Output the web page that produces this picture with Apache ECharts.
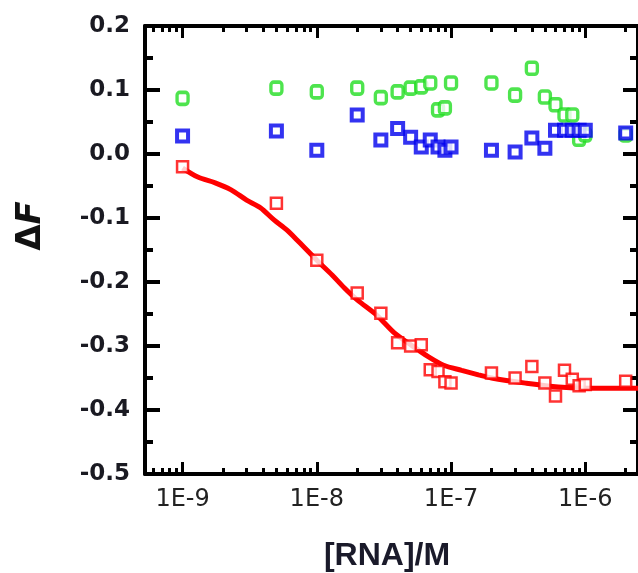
<!DOCTYPE html>
<html>
<head>
<meta charset="utf-8">
<script src="https://cdn.jsdelivr.net/npm/echarts@6/dist/echarts.min.js"></script>
<style>html,body{margin:0;padding:0;background:#fff;}#c{width:638px;height:573px;}</style>
</head>
<body>
<div id="c"></div>
<script>
// concentrations [RNA] (M), shared by all three series
var conc = [1e-9, 5e-9, 1e-8, 2e-8, 3e-8, 4e-8, 5e-8, 6e-8, 7e-8, 8e-8, 9e-8, 1e-7,
            2e-7, 3e-7, 4e-7, 5e-7, 6e-7, 7e-7, 8e-7, 9e-7, 1e-6, 2e-6];
var greenDF = [0.087, 0.103, 0.097, 0.103, 0.088, 0.097, 0.103, 0.105, 0.111, 0.069, 0.072, 0.111,
               0.111, 0.092, 0.134, 0.089, 0.077, 0.061, 0.061, 0.023, 0.030, 0.030];
var blueDF = [0.028, 0.036, 0.006, 0.061, 0.022, 0.040, 0.026, 0.011, 0.022, 0.011, 0.006, 0.011,
              0.006, 0.003, 0.025, 0.009, 0.037, 0.037, 0.037, 0.037, 0.037, 0.033];
var redDF = [-0.020, -0.077, -0.166, -0.217, -0.249, -0.295, -0.300, -0.298, -0.337, -0.340, -0.356, -0.358,
             -0.342, -0.350, -0.332, -0.358, -0.378, -0.338, -0.352, -0.362, -0.360, -0.355];
// fitted curve
var fitX = [1e-9, 1.3e-9, 1.75e-9, 2.3e-9, 3e-9, 3.8e-9, 4.8e-9, 6e-9, 7.4e-9, 1e-8, 1.3e-8, 1.6e-8,
            2e-8, 2.8e-8, 3.8e-8, 5e-8, 6.8e-8, 8.8e-8, 1.2e-7, 1.6e-7, 2e-7, 3.6e-7, 6.3e-7, 1.1e-6, 1.9e-6, 2.5e-6];
var fitY = [-0.022, -0.036, -0.045, -0.056, -0.072, -0.084, -0.103, -0.119, -0.138, -0.166, -0.189, -0.209,
            -0.228, -0.252, -0.280, -0.298, -0.317, -0.330, -0.338, -0.345, -0.350, -0.358, -0.364, -0.366, -0.366, -0.366];
// axis ranges and tick labels
var xMin = 5.25e-10, xMax = 2.47e-6;
var xMajorExp = [-9, -8, -7, -6];
var xTickLabels = ['1E-9', '1E-8', '1E-7', '1E-6'];
var yMin = -0.5, yMax = 0.2, yStep = 0.1;

var lo = Math.log10(xMin), hi = Math.log10(xMax);
var minorExp = [];
for (var e = -10; e <= -6; e++) {
  for (var k = 2; k <= 9; k++) {
    var v = e + Math.log10(k);
    if (v > lo && v < hi) minorExp.push(v);
  }
}
var majorIn = xMajorExp.filter(function (v) { return v > lo && v < hi; });

function pair(xs, ys) { return xs.map(function (x, i) { return [x, ys[i]]; }); }

var tickAxis = function (pos, values, len, labels) {
  return {
    type: 'value', position: pos, min: lo, max: hi,
    axisLine: { show: false, onZero: false },
    splitLine: { show: false },
    axisTick: { show: true, inside: true, length: len, customValues: values,
                lineStyle: { color: '#000', width: 3 } },
    axisLabel: labels ? {
      show: true, customValues: values, margin: 14,
      fontFamily: 'DejaVu Sans', fontSize: 24, color: '#222',
      formatter: function (v) { return xTickLabels[xMajorExp.indexOf(Math.round(v))]; }
    } : { show: false }
  };
};

var chart = echarts.init(document.getElementById('c'), null, { renderer: 'canvas' });
var yAxisBase = function (pos, labels) {
  return {
    type: 'value', position: pos, min: yMin, max: yMax, interval: yStep,
    axisLine: { show: true, onZero: false, lineStyle: { color: '#000', width: 4 } },
    splitLine: { show: false },
    axisTick: { show: true, inside: true, length: 15, lineStyle: { color: '#000', width: 4 } },
    minorTick: { show: true, splitNumber: 2, length: 8, lineStyle: { color: '#000', width: 4 } },
    axisLabel: labels ? {
      show: true, margin: 15, fontFamily: 'DejaVu Sans', fontWeight: 'bold', fontSize: 23, color: '#1a1a22',
      formatter: function (v) { return v.toFixed(1); }
    } : { show: false }
  };
};

chart.setOption({
  animation: false,
  backgroundColor: '#fff',
  grid: { left: 145, top: 26, width: 505, height: 448, containLabel: false },
  xAxis: [
    { type: 'log', position: 'bottom', min: xMin, max: xMax,
      axisLine: { show: true, onZero: false, lineStyle: { color: '#000', width: 4 } },
      axisTick: { show: false }, axisLabel: { show: false }, splitLine: { show: false } },
    { type: 'log', position: 'top', min: xMin, max: xMax,
      axisLine: { show: true, onZero: false, lineStyle: { color: '#000', width: 4 } },
      axisTick: { show: false }, axisLabel: { show: false }, splitLine: { show: false } },
    tickAxis('bottom', majorIn, 12, true),
    tickAxis('bottom', minorExp, 6, false),
    tickAxis('top', majorIn, 12, false),
    tickAxis('top', minorExp, 6, false)
  ],
  yAxis: [yAxisBase('left', true), yAxisBase('right', false)],
  graphic: [
    { type: 'text', x: 31, y: 226, rotation: Math.PI / 2,
      style: { text: '{a|Δ}{b|F}', align: 'center', verticalAlign: 'middle',
        rich: { a: { fontFamily: 'DejaVu Sans', fontWeight: 'bold', fontSize: 34, fill: '#111' },
                b: { fontFamily: 'DejaVu Sans', fontWeight: 'bold', fontStyle: 'italic', fontSize: 34, fill: '#111' } } } },
    { type: 'text', x: 387, y: 556,
      style: { text: '[RNA]/M', align: 'center', verticalAlign: 'middle',
        fontFamily: 'Liberation Sans', fontWeight: 'bold', fontSize: 32, fill: '#1a1a2a' } }
  ],
  series: [
    { type: 'line', xAxisIndex: 0, yAxisIndex: 0, data: pair(fitX, fitY), smooth: 0.3,
      showSymbol: false, lineStyle: { color: '#ff0000', width: 5 }, z: 2 },
    { type: 'scatter', xAxisIndex: 0, yAxisIndex: 0, data: pair(conc, greenDF), symbol: 'roundRect',
      symbolSize: [11, 12], itemStyle: { color: '#fff', borderColor: '#22dd22', borderWidth: 3.5 }, z: 3 },
    { type: 'scatter', xAxisIndex: 0, yAxisIndex: 0, data: pair(conc, blueDF), symbol: 'rect',
      symbolSize: 11, itemStyle: { color: '#fff', borderColor: '#0000ee', borderWidth: 4 }, z: 4 },
    { type: 'scatter', xAxisIndex: 0, yAxisIndex: 0, data: pair(conc, redDF), symbol: 'rect',
      symbolSize: 11, itemStyle: { color: '#fff', borderColor: '#ff0000', borderWidth: 2.5 }, z: 5 }
  ]
});
</script>
</body>
</html>
